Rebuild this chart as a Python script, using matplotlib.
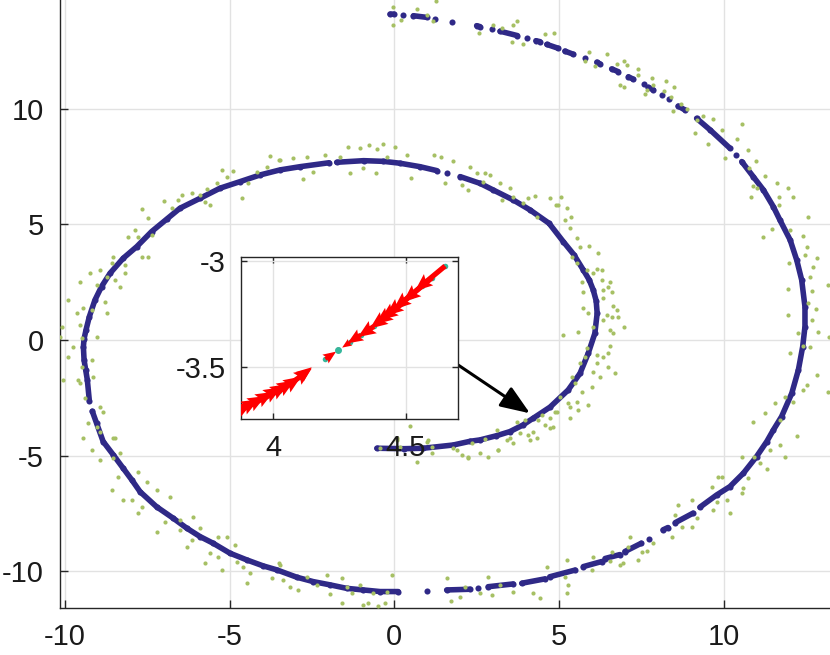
import matplotlib
matplotlib.use("Agg")
import matplotlib.pyplot as plt
import numpy as np

plt.rcParams["font.family"] = ["Liberation Sans", "DejaVu Sans"]
plt.rcParams["axes.unicode_minus"] = False

# ── spiral centre line (blue), None = gap between dots ────────────────────────
blue_inner = [(-0.53, -4.68), (0.30, -4.70), (0.88, -4.68), (1.79, -4.54), (2.30, -4.38),
              (2.60, -4.32), (3.10, -4.14), (3.51, -3.96), (3.90, -3.68), (4.22, -3.38),
              (4.73, -2.90), (5.28, -2.16), (5.64, -1.44), (5.89, -0.57), (6.09, 0.29),
              (6.16, 1.16), (6.13, 1.70), (6.04, 2.17), (5.92, 2.60), (5.74, 3.03),
              (5.45, 3.70), (5.13, 4.26), (4.70, 5.05), (4.12, 5.63), (3.61, 6.06),
              (3.01, 6.49), (2.60, 6.78), (2.00, 7.07), None,
              (1.59, 7.21), None,
              (1.29, 7.33), (0.78, 7.50), (0.17, 7.65), (-0.33, 7.73), (-0.93, 7.76),
              (-1.75, 7.69), None]
blue_left = [(-1.98, 7.67), (-2.86, 7.50), (-3.47, 7.36), (-4.08, 7.14), (-4.69, 6.85),
             (-5.29, 6.57), (-5.90, 6.13), (-6.51, 5.70), (-6.91, 5.23), (-7.37, 4.69),
             (-7.82, 4.04), (-8.23, 3.54), (-8.63, 2.89), (-8.89, 2.31), (-9.09, 1.73),
             (-9.26, 1.01), (-9.36, 0.44), (-9.42, 0.05), (-9.44, -0.29), (-9.42, -0.86),
             (-9.37, -1.30), (-9.32, -1.73), (-9.26, -2.62), None,
             (-9.17, -3.08), (-9.04, -3.60), (-8.84, -4.39), (-8.53, -4.97), (-8.23, -5.55),
             (-7.97, -6.05), (-7.72, -6.56), (-7.22, -7.21), (-6.71, -7.71), (-6.30, -8.14),
             (-5.90, -8.50), (-5.50, -8.79), (-4.99, -9.22), (-4.48, -9.51), (-3.98, -9.77),
             (-3.57, -9.94), (-2.96, -10.26), (-2.46, -10.45), (-1.95, -10.59),
             (-1.45, -10.74), (-0.94, -10.81), (-0.43, -10.88), (0.12, -10.88), None]
blue_bottom = [(0.98, -10.85), None, (1.59, -10.81), (2.30, -10.78), None,
               (2.55, -10.74), None, (2.85, -10.67), (3.61, -10.55), None,
               (3.87, -10.52), (4.58, -10.33), None, (4.72, -10.24), (5.49, -9.95), None,
               (5.74, -9.80), (6.30, -9.58), None, (6.40, -9.45), (6.85, -9.28), None,
               (7.00, -9.15), (7.50, -8.79), None, (7.74, -8.59), None,
               (8.16, -8.21), (8.31, -8.11), None, (8.53, -7.90), (9.07, -7.49), None]
blue_right = [(9.28, -7.23), (9.79, -6.70), (10.19, -6.34), (10.60, -5.76), (11.00, -5.04),
              (11.31, -4.39), (11.51, -3.89), (11.76, -3.31), (12.07, -2.30), (12.27, -1.29),
              (12.40, -0.29), (12.47, 0.58), (12.47, 1.44), (12.37, 2.60), (12.22, 3.46),
              (12.02, 4.33), (11.71, 5.19), (11.51, 5.77), (11.21, 6.49), (10.90, 7.07),
              (10.55, 7.72), None]
blue_top = [(10.37, 8.01), None, (10.19, 8.30), (9.59, 9.09), (9.18, 9.59), None,
            (8.83, 9.95), (8.62, 10.12), None, (8.34, 10.42), None, (8.12, 10.60), None,
            (7.87, 10.82), (7.71, 10.93), None, (7.58, 11.08), None,
            (7.26, 11.28), (7.11, 11.39), None, (6.80, 11.61), (6.60, 11.73), None,
            (6.25, 11.94), (6.15, 12.02), None, (5.79, 12.19), None,
            (5.44, 12.36), (5.18, 12.50), None, (4.98, 12.62), (4.63, 12.79), None,
            (4.42, 12.91), (4.30, 12.95), None, (4.02, 13.05), None,
            (3.74, 13.17), (3.21, 13.36), None, (2.96, 13.44), None,
            (2.60, 13.56), (2.50, 13.60), None, (1.76, 13.77), None, (1.24, 13.90), None,
            (0.98, 13.96), (0.58, 14.03), None, (0.27, 14.07), None,
            (-0.01, 14.10), (-0.13, 14.10)]

# ── noisy samples (green) ─────────────────────────────────────────────────────
green_upper_left = [(-3.77, 7.96), (-3.49, 7.79), (-3.88, 7.50), (-4.18, 7.28), (-4.43, 6.81),
                    (-4.89, 7.33), (-5.09, 7.07), (-5.24, 7.36), (-5.39, 6.78), (-4.62, 6.16),
                    (-5.70, 6.52), (-5.90, 6.28), (-5.75, 5.99), (-5.60, 5.84), (-6.15, 6.35),
                    (-6.46, 6.28), (-6.56, 6.06), (-6.76, 5.70), (-6.99, 6.00), (-7.67, 5.67),
                    (-7.47, 5.27)]
green_outer_top = [(-0.03, 14.42), (-0.03, 13.63), (0.19, 13.85), (0.68, 14.32), (0.98, 14.06),
                   (1.18, 13.81), (1.27, 14.68), (2.58, 13.30), (3.01, 13.62), (3.26, 13.49),
                   (3.61, 13.63), (3.74, 13.81), (3.56, 12.91), (3.92, 12.81), (4.58, 13.23),
                   (4.85, 13.27), (5.92, 12.47), (5.79, 12.07), (6.09, 11.86), (6.47, 12.36),
                   (6.75, 11.94), (6.98, 12.09), (7.06, 11.90), (6.85, 11.03), (6.98, 10.96),
                   (7.41, 11.71), (7.41, 11.47), (7.82, 11.35), (7.87, 11.03), (7.66, 10.82),
                   (7.61, 10.63), (8.19, 10.79), (8.25, 11.22), (8.49, 10.96), (8.39, 10.50),
                   (8.47, 9.91), (8.70, 10.21), (8.90, 9.98), (9.13, 8.97), (9.18, 9.52),
                   (9.37, 9.71), (9.69, 9.55), (9.54, 8.48), (9.94, 9.09), (10.04, 7.86),
                   (10.40, 8.70), (10.55, 9.35), (10.75, 8.22), (10.98, 7.75), (10.78, 7.43),
                   (11.25, 7.10), (10.90, 6.67), (10.82, 6.20), (11.02, 6.57), (11.61, 6.78),
                   (11.67, 6.20), (11.96, 6.57), (12.10, 6.20), (11.67, 5.84), (12.57, 5.31)]
green_inner_top = [(-3.47, 7.79), (-3.07, 7.86), (-2.66, 7.93), (-2.76, 6.95), (-2.46, 7.28),
                   (-2.10, 8.01), (-1.65, 7.93), (-1.40, 8.36), (-1.35, 7.21), (-1.04, 8.30),
                   (-0.76, 8.44), (-0.53, 8.25), (-0.35, 8.47), (0.02, 8.34), (-0.21, 7.93),
                   (-0.56, 7.24), (-0.96, 7.43), (0.38, 8.01), (0.50, 7.00), (1.21, 8.01),
                   (1.41, 7.93), (1.77, 7.76), (1.54, 6.78), (2.05, 6.71), (2.25, 6.49),
                   (2.30, 7.50), (2.50, 7.21), (2.75, 7.21), (2.91, 7.14), (2.70, 6.85),
                   (3.21, 6.81), (3.51, 6.57), (3.61, 6.20), (3.26, 6.06), (4.07, 6.13),
                   (4.27, 6.23), (4.73, 6.13), (3.92, 5.92), (4.98, 5.84), (4.32, 5.34),
                   (4.91, 5.84), (5.05, 6.20), (5.24, 5.70), (5.36, 5.34)]
green_left = [(-7.87, 4.76), (-7.77, 4.47), (-8.08, 4.47), (-7.37, 4.55), (-7.67, 3.61),
              (-7.47, 3.61), (-8.53, 3.61), (-8.58, 3.32), (-8.18, 3.25), (-8.18, 2.89),
              (-8.94, 3.03), (-8.73, 2.74), (-9.24, 2.89), (-9.04, 2.38), (-8.48, 2.60),
              (-8.33, 2.31), (-9.54, 2.53), (-8.79, 1.66), (-9.90, 1.73), (-9.44, 1.38),
              (-9.64, 1.16), (-9.19, 1.30), (-8.73, 1.16), (-9.54, 0.65), (-10.10, 0.58),
              (-10.15, 0.15), (-9.04, 0.12), (-9.49, 0.08), (-9.75, -0.29), (-9.90, -0.72),
              (-9.19, -0.86), (-9.49, -1.15), (-10.05, -1.73), (-9.60, -1.73), (-9.54, -1.87),
              (-9.39, -2.52), (-9.14, -1.58), (-8.94, -2.88), (-8.84, -3.10), (-9.29, -3.60),
              (-9.04, -3.75), (-8.94, -3.96), (-8.48, -4.25)]
green_lower_left = [(-9.44, -4.25), (-9.19, -4.75), (-8.94, -5.19), (-8.53, -4.25),
                    (-8.33, -4.90), (-8.53, -5.11), (-8.58, -6.48), (-8.38, -5.91),
                    (-8.23, -6.92), (-7.97, -6.92), (-7.77, -5.69), (-7.77, -7.49),
                    (-7.67, -7.21), (-7.52, -6.12), (-7.22, -6.48), (-7.22, -8.29),
                    (-6.96, -7.85), (-6.81, -6.77), (-6.51, -7.78), (-6.51, -8.21),
                    (-6.30, -8.94), (-6.10, -7.66), (-6.15, -8.65), (-5.90, -8.14),
                    (-5.75, -9.63), (-5.60, -9.22), (-5.34, -8.50), (-5.34, -9.37),
                    (-5.24, -9.94), (-5.09, -8.50), (-4.84, -8.86), (-4.79, -9.58),
                    (-4.59, -9.80), (-4.48, -10.49), (-4.38, -10.09), (-3.72, -10.30),
                    (-3.49, -9.65)]
green_bottom = [(-3.47, -9.73), (-3.37, -10.38), (-3.17, -10.67), (-2.92, -10.81),
                (-2.66, -10.23), (-2.36, -10.59), (-2.05, -10.16), (-1.95, -10.98),
                (-1.60, -10.30), (-1.60, -11.36), (-1.45, -10.67), (-1.29, -10.95),
                (-1.04, -10.59), (-0.96, -11.46), (-0.79, -11.36), (-0.64, -10.95),
                (-0.49, -11.52), (-0.28, -11.38), (-0.21, -10.88), (-0.08, -10.16),
                (1.59, -10.30), (1.71, -11.27), (2.00, -11.10), (2.15, -10.67), (2.60, -10.95),
                (2.85, -10.26), (2.96, -11.03), (3.21, -10.59), (3.61, -10.88), (4.22, -10.95),
                (4.42, -11.17), (4.63, -9.83), (5.25, -9.51), (5.18, -10.23), (5.28, -10.59),
                (5.24, -10.93)]
green_inner_bottom = [(-0.43, -4.68), (0.07, -4.25), (0.17, -4.61), (0.68, -5.26), (0.98, -4.39),
                      (1.14, -4.61), (1.79, -4.68), (2.05, -4.97), (2.25, -5.11), (2.35, -4.46),
                      (2.60, -4.90), (2.75, -4.29), (2.85, -5.07), (3.16, -4.75), (3.51, -4.25),
                      (3.61, -4.44), (4.07, -4.10), (4.32, -4.25), (0.48, -3.72), (0.07, -4.32),
                      (1.03, -4.32), (1.14, -4.90), (1.89, -4.75), (2.25, -5.04), (3.11, -3.89),
                      (3.16, -4.75), (3.41, -4.32), (3.72, -3.53), (3.82, -4.03), (3.97, -3.46),
                      (4.22, -3.96), (4.48, -3.24), (4.58, -3.67), (4.73, -3.82), (4.88, -3.10),
                      (4.37, -3.46), (4.12, -4.32)]
green_inner_right = [(5.18, 5.19), (5.34, 4.83), (5.54, 4.40), (5.64, 4.04), (5.92, 4.07),
                     (6.19, 3.78), (5.39, 3.61), (5.54, 3.32), (5.84, 3.03), (6.15, 3.06),
                     (6.30, 3.03), (6.04, 2.89), (6.30, 2.60), (6.55, 2.53), (6.50, 2.31),
                     (6.35, 2.17), (6.60, 2.09), (5.69, 2.53), (5.74, 2.09), (6.35, 1.81),
                     (6.65, 1.47), (6.75, 1.30), (6.45, 1.09), (5.74, 1.38), (5.89, 1.16),
                     (6.35, 0.87), (6.60, 1.01), (6.80, 1.01), (6.98, 0.58), (6.55, 0.44),
                     (6.65, 0.29), (6.04, 0.58), (5.59, 0.36), (5.13, 0.22), (6.55, -0.26),
                     (5.84, -0.35), (5.79, -0.72), (6.15, -0.64), (6.35, -0.72), (6.50, -0.57),
                     (6.15, -1.00), (6.50, -1.15), (6.70, -1.44), (6.25, -1.58), (6.04, -1.37),
                     (5.64, -1.00), (5.39, -1.58), (5.49, -1.87), (5.69, -2.23), (5.99, -2.02),
                     (5.54, -2.66), (5.28, -2.71), (5.03, -2.45), (5.34, -2.88), (5.59, -3.02),
                     (5.89, -2.81), (5.34, -3.38), (4.93, -3.10), (4.73, -3.38), (4.83, -3.75)]
green_outer_right = [(11.21, 4.47), (11.46, 4.79), (12.02, 4.76), (12.42, 4.50), (12.52, 4.04),
                     (12.00, 3.35), (12.47, 3.68), (12.85, 3.54), (12.72, 3.17), (12.62, 2.74),
                     (13.18, 2.38), (11.96, 2.20), (12.68, 2.14), (12.57, 1.59), (12.81, 1.33),
                     (11.96, 1.09), (12.68, 0.87), (12.88, 0.36), (13.21, 0.12), (12.27, 0.29),
                     (12.42, -0.26), (12.62, -0.29), (12.02, -0.57), (12.83, -1.51),
                     (12.52, -1.94), (12.42, -2.16), (12.12, -2.66), (11.86, -2.45),
                     (11.56, -2.73), (11.26, -3.17), (10.90, -3.53), (11.71, -3.46),
                     (12.22, -4.15), (13.18, -2.23), (11.71, -4.54), (11.86, -5.04),
                     (11.41, -4.75), (11.33, -5.59), (11.11, -5.33), (10.91, -5.04),
                     (10.55, -5.07), (10.75, -5.98), (10.60, -6.41), (10.55, -6.60),
                     (10.19, -7.49), (10.09, -6.92), (9.94, -5.91), (9.84, -5.91), (9.64, -6.34),
                     (9.79, -6.99), (9.69, -7.35), (9.03, -6.92), (9.03, -8.07), (9.18, -7.71),
                     (8.62, -7.13), (8.52, -7.56), (8.42, -8.50), (8.73, -8.07), (7.87, -8.76),
                     (7.66, -9.11), (7.51, -9.15), (7.41, -9.51), (7.16, -8.50), (7.11, -8.94),
                     (6.95, -9.65), (6.85, -9.73), (6.60, -9.15), (6.55, -9.54), (6.04, -9.37),
                     (5.99, -9.94)]

# ── inset: local field around one sample ──────────────────────────────────────
inset_x = [4.649, 4.60, 4.56, 4.52, 4.49, 4.46, 4.43, 4.38, 4.33, 4.29, 4.246, 4.197,
           4.10, 4.06, 4.02, 3.99, 3.96, 3.93, 3.90, 3.87, 3.84, 3.81]
inset_y = [-3.025, -3.08, -3.12, -3.165, -3.20, -3.23, -3.26, -3.31, -3.35, -3.385, -3.421,
           -3.464, -3.548, -3.584, -3.617, -3.635, -3.654, -3.672, -3.691, -3.709, -3.727,
           -3.746]
inset_u = [-0.114, -0.11, -0.106, -0.095, -0.086, -0.075, -0.065, -0.06, -0.05, -0.03, 0.0,
           0.04, 0.045, 0.085, 0.085, 0.09, 0.095, 0.10, 0.10, 0.10, 0.105, 0.11]
inset_v = [-0.118, -0.115, -0.11, -0.095, -0.08, -0.07, -0.06, -0.05, -0.04, -0.025, 0.0,
           0.035, 0.045, 0.075, 0.07, 0.07, 0.072, 0.075, 0.072, 0.07, 0.072, 0.075]

C_BLUE = "#2f2987"
C_GREEN = "#a6c064"
C_TEAL = "#35b79c"
C_AX = "#262626"
C_GRID = "#e2e2e2"
FS = 21


def to_xy(pts):
    xs = [np.nan if p is None else p[0] for p in pts]
    ys = [np.nan if p is None else p[1] for p in pts]
    return np.array(xs), np.array(ys)


fig = plt.figure(figsize=(8.3, 6.55), dpi=100)
ax = fig.add_axes([0.0727, 0.0725, 0.9273, 0.9275])

bx, by = to_xy(blue_inner + blue_left + blue_bottom + blue_right + blue_top)
ax.plot(bx, by, "-o", color=C_BLUE, lw=4.0, ms=4.4, mew=0,
        solid_capstyle="round", solid_joinstyle="round", zorder=3)

gx, gy = to_xy(green_upper_left + green_outer_top + green_inner_top + green_left +
               green_lower_left + green_bottom + green_inner_bottom + green_inner_right +
               green_outer_right)
ax.plot(gx, gy, "o", color=C_GREEN, ms=3.0, mew=0, zorder=4)

ax.set_xlim(-10.14, 13.23)
ax.set_ylim(-11.57, 14.71)
ax.set_xticks([-10, -5, 0, 5, 10])
ax.set_yticks([-10, -5, 0, 5, 10])
ax.grid(True, color=C_GRID, lw=1.0, zorder=0)
ax.set_axisbelow(True)
for s in ["top", "right"]:
    ax.spines[s].set_visible(False)
for s in ["left", "bottom"]:
    ax.spines[s].set_color(C_AX)
    ax.spines[s].set_linewidth(1.0)
ax.tick_params(direction="in", length=5.5, width=1.0, color=C_AX,
               labelsize=FS, labelcolor="#1a1a1a")
ax.tick_params(axis="y", pad=12)
ax.tick_params(axis="x", pad=11)

# arrow from inset to the sample it shows
ax.annotate("", xy=(4.12, -3.17), xytext=(1.94, -1.08),
            arrowprops=dict(arrowstyle="-|>,head_length=0.9,head_width=0.35",
                            mutation_scale=20, color="black", lw=2.2,
                            shrinkA=0, shrinkB=0),
            zorder=6)

# ── inset axes ────────────────────────────────────────────────────────────────
ins = fig.add_axes([0.2904, 0.3603, 0.2618, 0.2478])
ins.set_facecolor("white")
ins.plot(inset_x, inset_y, "o", color=C_TEAL, ms=4.0, mew=0, zorder=2)
ins.plot(inset_x[10], inset_y[10], "o", color=C_TEAL, ms=5.0, mew=0, zorder=4)
ins.quiver(inset_x, inset_y, inset_u, inset_v, angles="xy", scale_units="xy", scale=1,
           color="red", width=0.024, headwidth=2.8, headlength=3.4, headaxislength=3.0,
           zorder=3)
ins.set_xlim(3.878, 4.699)
ins.set_ylim(-3.747, -2.981)
ins.set_xticks([4, 4.5])
ins.set_xticklabels(["4", "4.5"])
ins.set_yticks([-3.5, -3])
ins.set_yticklabels(["-3.5", "-3"])
ins.grid(True, color=C_GRID, lw=1.0, zorder=0)
ins.set_axisbelow(True)
for s in ins.spines.values():
    s.set_color(C_AX)
    s.set_linewidth(1.0)
ins.tick_params(direction="in", length=4, width=1.0, color=C_AX, top=True, right=True,
                labelsize=FS, labelcolor="#1a1a1a")
ins.tick_params(axis="y", pad=11)
ins.tick_params(axis="x", pad=11)

fig.savefig("out.png", dpi=100, facecolor="white")
